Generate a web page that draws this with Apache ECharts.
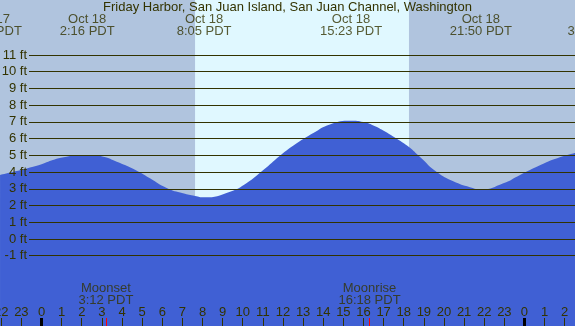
<!DOCTYPE html>
<html>
<head>
<meta charset="utf-8">
<title>Friday Harbor tide</title>
<script src="https://cdn.jsdelivr.net/npm/echarts@6/dist/echarts.min.js"></script>
<style>
html, body { margin: 0; padding: 0; background: #b0c4de; }
#chart { width: 575px; height: 326px; }
</style>
</head>
<body>
<div id="chart"></div>
<script>
// tide height (hours after midnight Oct 18, ft)
var tideHours = [-2.06, -0.42, 1.25, 2.29, 3.07, 3.74, 4.55, 5.39, 6.22, 7.03, 7.63, 8.07, 9.37, 10.2, 11.02, 11.85, 12.68, 13.51, 14.33, 15.38, 15.99, 16.49, 16.98, 17.65, 18.26, 18.81, 19.64, 20.46, 21.29, 21.87, 22.95, 23.78, 24.61, 25.43, 26.51];
var tideFeet = [3.83, 4.32, 4.92, 5.02, 4.92, 4.62, 4.2, 3.63, 3.05, 2.73, 2.57, 2.49, 2.83, 3.35, 4.12, 4.98, 5.72, 6.34, 6.85, 7.07, 6.99, 6.79, 6.49, 6.0, 5.5, 4.9, 4.0, 3.45, 3.1, 2.97, 3.33, 3.83, 4.32, 4.76, 5.15];

// highs and lows written along the top
var eventHours = [-2.52, 2.27, 8.08, 15.38, 21.83, 27.5];
var eventDates = ["Oct 17", "Oct 18", "Oct 18", "Oct 18", "Oct 18", "Oct 19"];
var eventTimes = ["21:29 PDT", "2:16 PDT", "8:05 PDT", "15:23 PDT", "21:50 PDT", "3:30 PDT"];

// moon
var moonHours = [3.2, 16.3];
var moonNames = ["Moonset", "Moonrise"];
var moonTimes = ["3:12 PDT", "16:18 PDT"];

// daylight
var sunrise = 7.63;
var sunset = 18.26;

var hourTicks = [-2, -1, 0, 1, 2, 3, 4, 5, 6, 7, 8, 9, 10, 11, 12, 13, 14, 15, 16, 17, 18, 19, 20, 21, 22, 23, 24, 25, 26];
var midnightTicks = [0, 24];
var ftTicks = [-1, 0, 1, 2, 3, 4, 5, 6, 7, 8, 9, 10, 11];

var xMin = -2.062, xMax = 26.51;
var yMin = -5.2, yMax = 14.29;
var ink = "#333300";

var myChart = echarts.init(document.getElementById("chart"));

var tideData = tideHours.map(function(h, i) {
  return [h, tideFeet[i]];
});
var eventData = eventHours.map(function(h, i) {
  return { value: [h, 12.76], name: eventDates[i] + "\n" + eventTimes[i] };
});
var moonData = moonHours.map(function(h, i) {
  return { value: [h, -3.32], name: moonNames[i] + "\n" + moonTimes[i] };
});

function hourAxis(ticks, tickStyle, showLabel) {
  return {
    type: "value",
    gridIndex: 0,
    position: "bottom",
    min: xMin,
    max: xMax,
    z: 10,
    axisLine: { show: false, onZero: false },
    splitLine: { show: false },
    axisTick: {
      customValues: ticks,
      inside: true,
      length: 8,
      lineStyle: tickStyle
    },
    axisLabel: {
      show: showLabel,
      customValues: ticks,
      inside: true,
      margin: 7,
      color: ink,
      fontSize: 13,
      hideOverlap: false,
      formatter: function(v) {
        return ((v % 24) + 24) % 24;
      }
    }
  };
}

myChart.setOption({
  animation: false,
  backgroundColor: "#b0c4de",
  textStyle: { fontFamily: "Liberation Sans, Arial, sans-serif" },
  title: {
    text: "Friday Harbor, San Juan Island, San Juan Channel, Washington",
    left: "center",
    top: 0,
    padding: [1, 0, 0, 0],
    textStyle: { fontSize: 13, fontWeight: "normal", color: ink }
  },
  grid: [
    { left: 0, right: 0, top: 0, bottom: 0, outerBoundsMode: "none", containLabel: false },
    { left: 29, right: 0, top: 55, bottom: 70.3, outerBoundsMode: "none", containLabel: false }
  ],
  xAxis: [
    hourAxis(hourTicks, { color: ink, width: 1 }, true),
    hourAxis(midnightTicks, { color: "#000", width: 3 }, false),
    hourAxis(moonHours, { color: "red", width: 1 }, false),
    { type: "value", gridIndex: 1, min: xMin, max: xMax, show: false }
  ],
  yAxis: [
    { type: "value", gridIndex: 0, min: yMin, max: yMax, show: false },
    {
      type: "value",
      gridIndex: 1,
      min: ftTicks[0],
      max: ftTicks[ftTicks.length - 1],
      interval: 1,
      z: 10,
      axisLine: { show: false, onZero: false },
      axisTick: { show: false },
      splitLine: { show: true, lineStyle: { color: ink, width: 1 } },
      axisLabel: { margin: 2, color: ink, fontSize: 13, formatter: "{value} ft" }
    }
  ],
  series: [
    {
      name: "tide",
      type: "line",
      xAxisIndex: 0,
      yAxisIndex: 0,
      data: tideData,
      smooth: 0.5,
      symbol: "none",
      z: 2,
      lineStyle: { width: 0 },
      areaStyle: { color: "#4060d4", opacity: 1, origin: "start" },
      markArea: {
        silent: true,
        itemStyle: { color: "#e0f8ff" },
        data: [[{ xAxis: sunrise }, { xAxis: sunset }]]
      }
    },
    {
      name: "events",
      type: "scatter",
      xAxisIndex: 0,
      yAxisIndex: 0,
      clip: false,
      symbolSize: 1,
      itemStyle: { color: "rgba(0,0,0,0)" },
      z: 6,
      data: eventData,
      label: {
        show: true,
        position: "inside",
        formatter: "{b}",
        fontSize: 13,
        lineHeight: 12,
        color: ink
      }
    },
    {
      name: "moon",
      type: "scatter",
      xAxisIndex: 0,
      yAxisIndex: 0,
      clip: false,
      symbolSize: 1,
      itemStyle: { color: "rgba(0,0,0,0)" },
      z: 6,
      data: moonData,
      label: {
        show: true,
        position: "inside",
        formatter: "{b}",
        fontSize: 13,
        lineHeight: 12,
        color: ink
      }
    }
  ]
});

window.onresize = myChart.resize;
</script>
</body>
</html>
